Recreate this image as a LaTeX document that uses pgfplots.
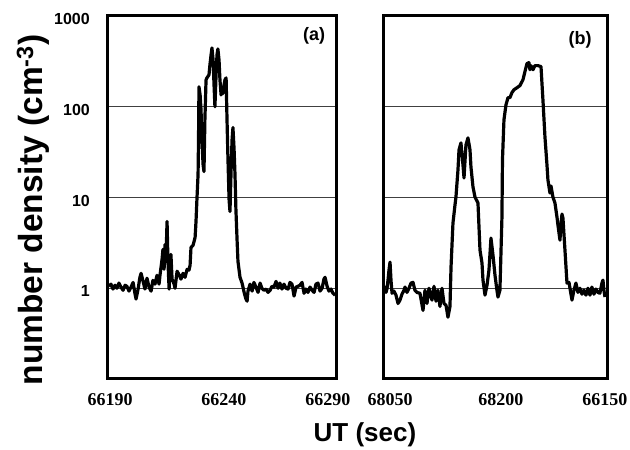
\documentclass[border=0pt]{standalone}
\usepackage{fontspec}
\setmainfont{Liberation Serif}
\newfontfamily\arial{Liberation Sans}
\usepackage{pgfplots}
\pgfplotsset{compat=1.18}
\begin{document}
\begin{tikzpicture}
\path[use as bounding box] (0pt,0pt) rectangle (630pt,450pt);
\begin{axis}[at={(108pt,71pt)}, anchor=south west, width=228pt,
  scale only axis, height=363pt,
  ymode=log, ymin=0.1, ymax=1000,
  axis line style={line width=3pt},
  ytick={1,10,100,1000}, yminorticks=false,
  ymajorgrids, grid style={line width=0.9pt, black!75},
  major tick length=0pt, minor tick length=0pt,
  scaled x ticks=false,
  xticklabel style={font=\fontsize{18}{20}\selectfont\bfseries, inner sep=0pt, anchor=north, yshift=-14pt},
  yticklabel style={font=\arial\bfseries\fontsize{16}{18}\selectfont, inner sep=0pt, anchor=east, xshift=-18pt, yshift=-3pt},
  xmin=66190, xmax=66290,
  xtick={66190.9,66240.8,66286.4}, xticklabels={66190,66240,66290},
  yticklabels={1,10,100,1000}]
\addplot[black, line width=3.2pt, line join=round] table {
66190.4 1.05
66191.3 1.11
66192.2 0.98
66193.1 1.08
66193.9 1.0
66194.8 1.14
66195.7 1.03
66196.6 0.95
66197.5 1.08
66198.3 1.05
66199.2 0.93
66200.1 1.03
66201.0 1.16
66201.8 0.88
66202.3 0.76
66203.2 0.98
66204.0 1.32
66204.5 1.46
66205.4 1.19
66206.2 0.98
66207.1 1.29
66208.0 1.03
66208.9 0.93
66209.7 1.22
66210.6 1.11
66211.5 1.39
66212.4 1.11
66212.8 1.39
66213.7 2.08
66214.1 2.68
66214.6 1.62
66215.0 3.04
66215.4 1.98
66215.9 5.45
66216.3 1.98
66216.8 0.98
66217.2 1.70
66217.6 2.36
66218.1 1.26
66219.0 1.11
66219.4 1.0
66220.3 1.54
66221.1 1.42
66222.0 1.26
66222.9 1.46
66223.8 1.32
66224.7 1.62
66225.5 1.58
66226.0 1.79
66226.4 2.82
66227.3 2.97
66228.2 3.63
66228.6 5.45
66229.0 9.5
66229.5 17.9
66229.7 43
66229.9 166
66230.4 135
66230.8 93
66231.2 43
66231.7 23
66232.1 19.3
66232.5 72
66233.0 198
66233.4 208
66234.3 225
66234.7 289
66235.2 373
66235.6 445
66236.1 328
66236.5 175
66236.9 100
66237.4 225
66237.8 373
66238.2 434
66238.7 328
66239.1 198
66239.6 135
66240.0 146
66240.4 140
66240.9 175
66241.3 198
66241.8 208
66242.2 72
66242.6 27.5
66243.1 9.5
66243.5 7.0
66244.0 20.3
66244.4 43
66244.8 59
66245.3 34
66245.7 17.9
66246.1 7.4
66246.6 3.45
66247.0 1.98
66247.9 1.32
66248.8 1.14
66249.2 1.03
66249.7 0.90
66250.5 0.76
66251.0 0.72
66251.4 0.93
66252.3 1.11
66253.2 0.93
66254.0 1.16
66254.9 1.03
66255.8 0.90
66256.7 1.14
66257.5 1.0
66258.4 0.95
66259.3 0.98
66260.2 0.90
66261.1 0.95
66261.9 1.05
66262.8 1.03
66263.7 1.19
66264.6 1.0
66265.4 1.14
66266.3 0.98
66267.2 1.11
66268.1 1.0
66269.0 0.98
66269.8 1.16
66270.7 1.11
66271.6 0.82
66272.5 1.03
66273.3 1.05
66274.2 1.08
66275.1 1.16
66276.0 0.88
66276.8 0.98
66277.7 0.90
66278.6 1.03
66279.5 0.95
66280.4 0.90
66281.2 1.11
66282.1 1.14
66283.0 0.93
66283.9 1.0
66284.7 1.26
66285.2 1.32
66286.1 1.05
66286.9 0.93
66287.8 0.98
66288.7 0.88
66289.6 0.84
};
\node[font=\arial\bfseries\fontsize{18}{20}\selectfont] at (rel axis cs:0.904,0.945) {(a)};
\end{axis}
\begin{axis}[at={(383pt,71pt)}, anchor=south west, width=224pt,
  scale only axis, height=363pt,
  ymode=log, ymin=0.1, ymax=1000,
  axis line style={line width=3pt},
  ytick={1,10,100,1000}, yminorticks=false,
  ymajorgrids, grid style={line width=0.9pt, black!75},
  major tick length=0pt, minor tick length=0pt,
  scaled x ticks=false,
  xticklabel style={font=\fontsize{18}{20}\selectfont\bfseries, inner sep=0pt, anchor=north, yshift=-14pt},
  xmin=68050, xmax=68350,
  xtick={68059.4,68208,68347}, xticklabels={68050,68200,66150},
  yticklabels={,,,}]
\addplot[black, line width=3.2pt, line join=round] table {
68051.3 0.95
68052.7 1.03
68054.0 0.90
68055.4 0.99
68056.7 1.23
68058.0 1.58
68059.4 1.94
68060.7 1.23
68062.1 0.88
68064.7 0.93
68067.4 0.84
68070.1 0.68
68072.8 0.74
68075.4 0.86
68078.1 0.95
68079.5 1.03
68082.1 0.90
68084.8 1.0
68087.5 1.14
68090.2 1.16
68092.8 0.95
68095.5 0.90
68099.5 0.88
68103.6 0.57
68106.2 0.95
68108.9 0.68
68111.6 1.0
68115.6 0.74
68118.3 1.05
68121.0 0.72
68123.6 0.95
68126.3 0.63
68129.0 1.0
68131.7 0.68
68134.4 0.65
68137.0 0.48
68139.7 0.63
68141.1 1.71
68143.7 5.23
68146.4 8.26
68147.7 10.1
68150.4 20.1
68151.8 33.5
68154.4 40
68157.1 22.9
68158.5 16.4
68161.1 38
68163.8 45.4
68166.5 33.5
68167.8 21.7
68170.5 13.1
68173.2 10.1
68177.2 8.7
68179.9 2.63
68182.6 1.89
68183.9 1.23
68186.6 0.84
68189.3 1.08
68191.9 1.58
68194.6 3.57
68197.3 2.32
68200.0 1.39
68202.6 0.95
68204.0 0.80
68206.6 0.95
68209.3 6.09
68210.0 26
68212.0 71.8
68214.7 105
68217.4 126
68220.0 126
68222.7 143
68225.4 154
68229.4 162
68233.4 171
68237.5 199
68240.1 244
68242.8 299
68245.5 306
68246.8 256
68248.2 284
68250.9 256
68253.5 284
68257.5 284
68261.6 277
68264.2 119
68266.9 46.6
68269.6 22.9
68270.9 15.6
68273.6 11.2
68275.0 13.4
68277.6 10.1
68280.3 8.7
68283.0 6.09
68284.3 4.97
68287.0 3.39
68288.3 4.97
68289.7 6.57
68291.0 5.94
68293.7 2.63
68296.4 1.14
68299.1 1.16
68303.1 0.74
68305.7 0.95
68308.4 1.14
68311.1 0.90
68313.8 1.0
68316.5 0.86
68319.1 0.95
68321.8 0.84
68324.5 1.0
68327.2 0.84
68329.8 1.03
68332.5 0.86
68335.2 0.98
68337.9 0.90
68340.5 0.88
68343.2 1.14
68344.6 1.23
68345.9 0.95
68347.3 0.80
};
\node[font=\arial\bfseries\fontsize{18}{20}\selectfont] at (rel axis cs:0.88,0.935) {(b)};
\end{axis}
\node[rotate=90, font=\arial\bfseries\fontsize{33.5}{37}\selectfont] at (33pt,240pt) {number density (cm\textsuperscript{-3})};
\node[font=\arial\bfseries\fontsize{26}{30}\selectfont] at (365pt,15pt) {UT (sec)};
\end{tikzpicture}
\end{document}
